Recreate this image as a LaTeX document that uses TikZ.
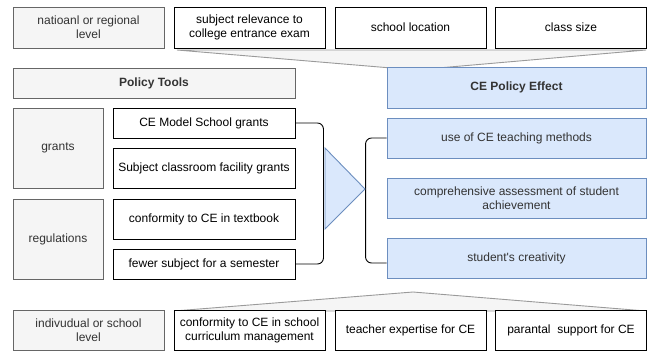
\documentclass[tikz,border=0pt]{standalone}
\usepackage{fontspec}
\setmainfont{Liberation Sans}
\definecolor{lvlfill}{HTML}{F5F5F5}
\definecolor{lvlline}{HTML}{666666}
\definecolor{txtgray}{HTML}{333333}
\definecolor{efffill}{HTML}{DAE8FC}
\definecolor{effline}{HTML}{6C8EBF}
\definecolor{wedgeline}{HTML}{9A9A9A}
\tikzset{
  base/.style={align=center, inner sep=0pt, line width=0.9pt, font=\fontsize{12}{14}\selectfont},
  lvl/.style={base, draw=lvlline, fill=lvlfill, text=txtgray},
  item/.style={base, draw=black, fill=white, text=black},
  effect/.style={base, draw=effline, fill=efffill, text=txtgray},
  wedge/.style={draw=wedgeline, fill=lvlfill, line width=0.9pt},
}
\begin{document}
\begin{tikzpicture}[x=1pt, y=-1pt]
\useasboundingbox (0,0) rectangle (648,351);

% Funnels behind the factor rows
\draw[wedge] (177,50) -- (646,50) -- (415,70) -- cycle;
\draw[wedge] (174,311) -- (413,292) -- (646,311) -- cycle;

% Contextual factors (top row)
\node[lvl, minimum width=151, minimum height=41] (natl) at (88.5,27.5) {natioanl or regional\\level};
\node[item, minimum width=151, minimum height=41] (subj) at (249.5,27.5) {subject relevance to\\college entrance exam};
\node[item, minimum width=151, minimum height=41] (loc) at (410.5,27.5) {school location};
\node[item, minimum width=151, minimum height=41] (size) at (571,27.5) {class size};

% Policy tools side
\node[lvl, minimum width=282, minimum height=30, font=\fontsize{12}{14}\selectfont\bfseries] (tools) at (154,83) {Policy Tools};
\node[lvl, minimum width=90, minimum height=80] (grants) at (58,148) {grants};
\node[lvl, minimum width=90, minimum height=80] (regs) at (58,239) {regulations};
\node[item, minimum width=182, minimum height=30] (model) at (204,123) {CE Model School grants};
\node[item, minimum width=182, minimum height=40] (facil) at (204,168) {Subject classroom facility grants};
\node[item, minimum width=182, minimum height=40] (textbk) at (204,219) {conformity to CE in textbook};
\node[item, minimum width=182, minimum height=30] (fewer) at (204,264) {fewer subject for a semester};

% Policy effect side
\node[effect, minimum width=259, minimum height=41, font=\fontsize{12}{14}\selectfont\bfseries] (effect) at (516.5,87.5) {CE Policy Effect};
\node[effect, minimum width=259, minimum height=40] (method) at (516.5,138) {use of CE teaching methods};
\node[effect, minimum width=259, minimum height=40] (assess) at (516.5,198) {comprehensive assessment of student\\achievement};
\node[effect, minimum width=259, minimum height=40] (creat) at (516.5,258) {student\textquotesingle s creativity};

% Brackets and the arrow between them
\draw[line width=0.9pt, rounded corners=6pt] (model.east) -- ++(28,0) |- (fewer.east);
\draw[line width=0.9pt, rounded corners=6pt] (method.west) -- ++(-21,0) |- ([yshift=-5pt]creat.west);
\draw[line width=0.9pt, draw=effline, fill=efffill] (325,148) -- (365,189) -- (325,229) -- cycle;

% Contextual factors (bottom row)
\node[lvl, minimum width=151, minimum height=40] (indiv) at (88.5,330) {indivudual or school\\level};
\node[item, minimum width=151, minimum height=40] (curric) at (249.5,330) {conformity to CE in school\\curriculum management};
\node[item, minimum width=151, minimum height=40] (expert) at (410.5,330) {teacher expertise for CE};
\node[item, minimum width=151, minimum height=40] (parent) at (571,330) {parantal\ \ support for CE};

\end{tikzpicture}
\end{document}
